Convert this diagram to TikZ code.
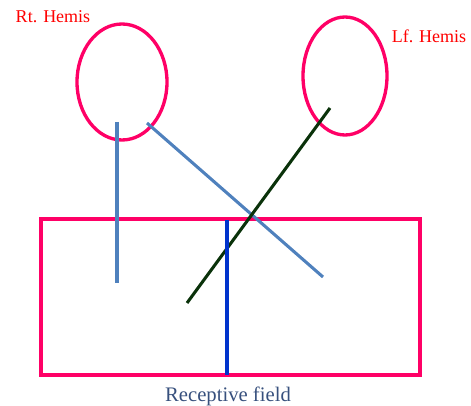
\documentclass[tikz,border=0pt]{standalone}
\usepackage{fontspec}
\setmainfont{Liberation Serif}
\usetikzlibrary{shapes.geometric}
\definecolor{hemipink}{RGB}{255,0,102}
\definecolor{labelred}{RGB}{255,0,0}
\definecolor{fibreblue}{RGB}{79,129,189}
\definecolor{deepblue}{RGB}{0,51,204}
\definecolor{fibregreen}{RGB}{10,50,10}
\definecolor{fieldtext}{RGB}{55,80,125}
\begin{document}
\begin{tikzpicture}[x=0.75pt,y=-0.75pt,
        hemi/.style={ellipse, draw=hemipink, line width=2.5pt, inner sep=0pt},
        hemilabel/.style={text=labelred, font=\fontsize{13.5}{15}\selectfont},
        fibre/.style={line width=2.3pt}
      ]
      \useasboundingbox (0,0) rectangle (471,406);
      % hemispheres
      \node[hemi, minimum width=67.5pt, minimum height=87pt] (rthemi) at (122,82) {};
      \node[hemi, minimum width=63pt, minimum height=88.5pt] (lfhemi) at (345,76) {};
      \node[hemilabel] (rtlabel) at (53,17) {Rt. Hemis};
      \node[hemilabel] (lflabel) at (429,36) {Lf. Hemis};
      % receptive field
      \draw[hemipink, line width=2.4pt] (41,219) rectangle (420,375);
      \node[text=fieldtext, font=\fontsize{15.5}{18}\selectfont] (field) at (228,396) {Receptive field};
      % fibres
      \coordinate (a1) at (117,122);  \coordinate (a2) at (117,283);
      \coordinate (b1) at (147,123);  \coordinate (b2) at (323,277);
      \coordinate (c1) at (330,108);  \coordinate (c2) at (187,303);
      \coordinate (d1) at (227,220);  \coordinate (d2) at (227,375);
      \draw[fibre, fibreblue] (a1) -- (a2);
      \draw[fibre, fibreblue] (b1) -- (b2);
      \draw[fibre, fibregreen] (c1) -- (c2);
      \draw[fibre, deepblue] (d1) -- (d2);
    \end{tikzpicture}
\end{document}
